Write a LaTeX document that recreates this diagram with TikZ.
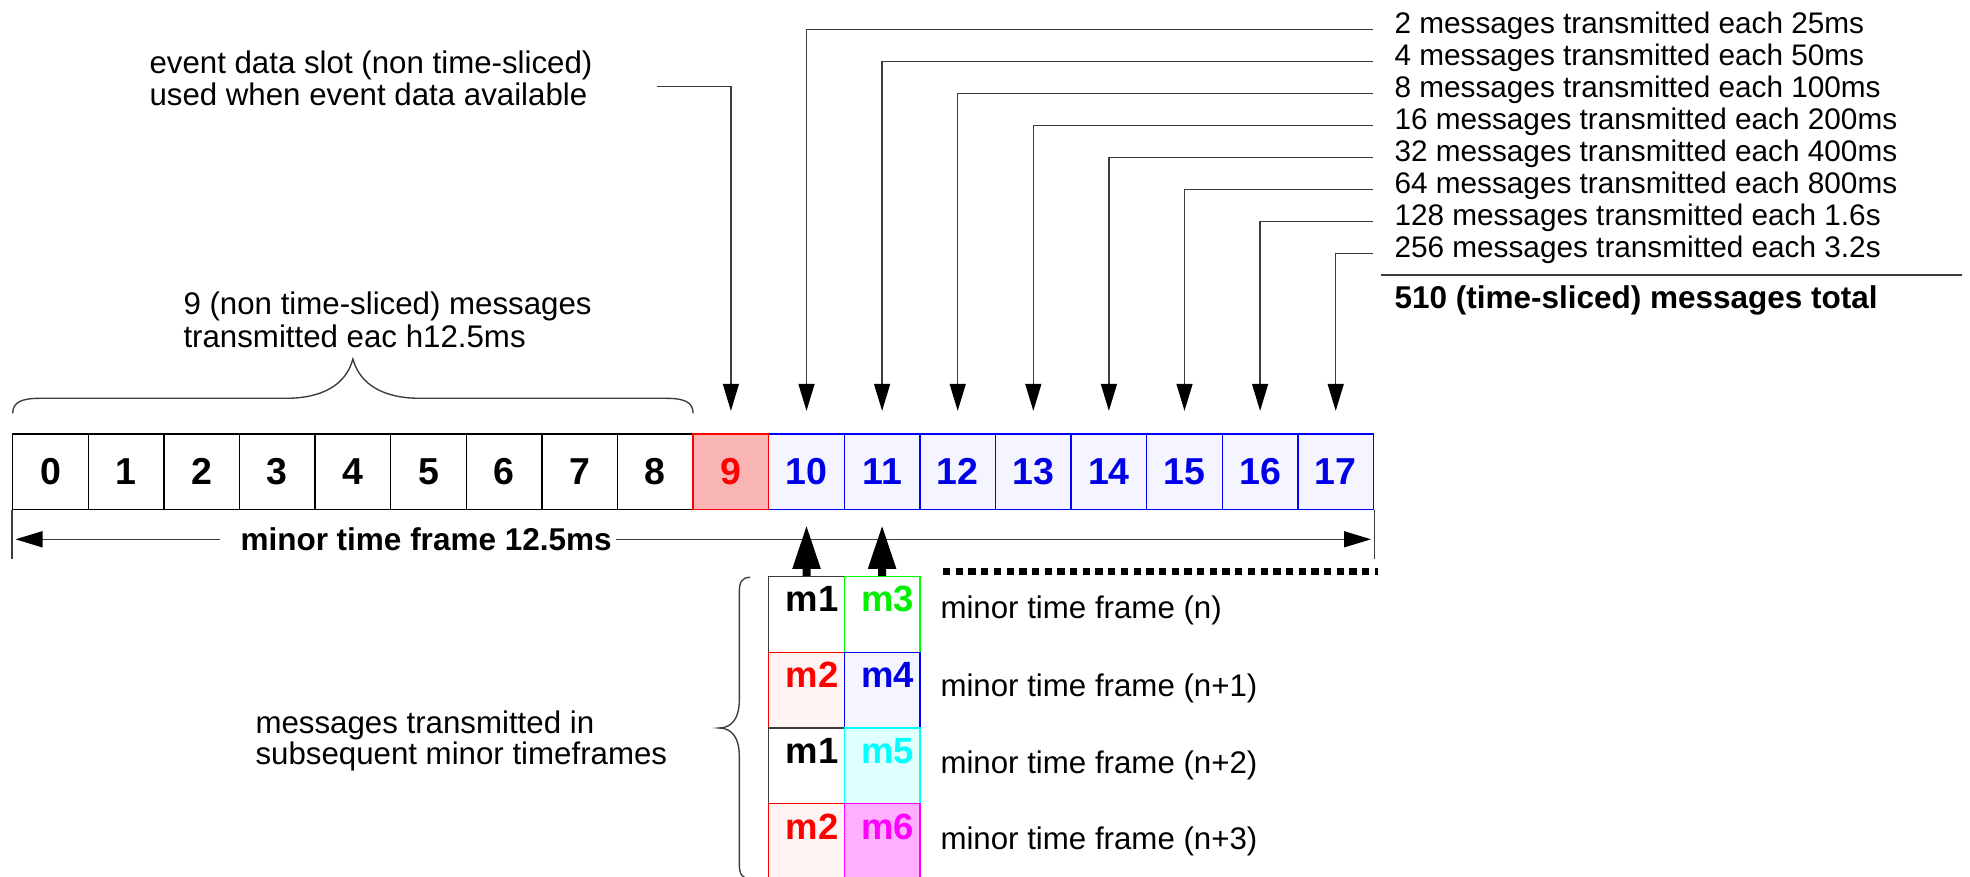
\documentclass[tikz,border=0pt]{standalone}
\usepackage{fontspec}
\setmainfont{Liberation Sans}
\usetikzlibrary{arrows.meta}

\definecolor{linegray}{HTML}{3C3C3C}
\definecolor{slotpink}{HTML}{F9B4B4}
\definecolor{slotpale}{HTML}{F5F5FF}
\definecolor{palered}{HTML}{FFF4F4}
\definecolor{palecyan}{HTML}{E0FFFF}
\definecolor{palemagenta}{HTML}{FFB0FF}
\definecolor{brightgreen}{HTML}{00FF00}
\definecolor{textgreen}{HTML}{00F000}
\definecolor{slotblue}{HTML}{0000FF}
\definecolor{digitblue}{HTML}{0000E6}
\definecolor{purecyan}{HTML}{00FFFF}
\definecolor{puremagenta}{HTML}{FF00FF}

\begin{document}
\begin{tikzpicture}[x=0.4pt, y=-0.4pt,
  conn/.style={draw=linegray, line width=0.55pt,
    -{Triangle[length=10.8pt,width=6.4pt,color=black]}},
  downarrow/.style={conn, shorten >=9pt},
  thinline/.style={draw=linegray, line width=0.55pt},
  bodytext/.style={inner sep=0pt, anchor=west, align=left,
    font=\fontsize{12.5}{12.7}\selectfont},
  listtext/.style={inner sep=0pt, anchor=west,
    font=\fontsize{11.9}{12.8}\selectfont},
  boldtext/.style={inner sep=0pt, anchor=west,
    font=\fontsize{12.6}{13}\selectfont\bfseries},
  slotbox/.style={draw, line width=0.55pt, minimum width=30.24pt,
    minimum height=30.12pt, inner sep=0pt,
    font=\fontsize{15}{16}\selectfont\bfseries},
  gcell/.style={draw, line width=0.55pt, minimum width=30.24pt,
    minimum height=30.28pt, inner sep=0pt},
  mlabel/.style={anchor=north east, inner sep=0pt, xshift=-2.4pt, yshift=-4pt,
    font=\fontsize{14.6}{15}\selectfont\bfseries},
  bigarrow/.style={line width=3.2pt,
    -{Triangle[length=17.6pt,width=10.4pt]}, shorten >=5.9pt},
]
\useasboundingbox (0,0) rectangle (1970,877);

% --- the eighteen slots of one minor time frame ---
\foreach \i in {0,...,8}
  \node[slotbox, fill=white] (s\i) at ({12.7+(\i+0.5)*75.6}, 471.7) {\i};
\foreach \i in {10,...,17}
  \node[slotbox, draw=slotblue, fill=slotpale, text=digitblue]
    (s\i) at ({12.7+(\i+0.5)*75.6}, 471.7) {\i};
\node[slotbox, draw=red, fill=slotpink, text=red]
  (s9) at ({12.7+9.5*75.6}, 471.7) {9};

% --- brace over the non time-sliced slots ---
\draw[thinline] (12.7,413.3) .. controls (12.7,402) and (22,398.3) .. (40,398.3)
  -- (286,398.3) .. controls (322,398.3) and (346,385) .. (352.9,359)
  .. controls (360,385) and (384,398.3) .. (420,398.3)
  -- (666,398.3) .. controls (684,398.3) and (693.1,402) .. (693.1,413.3);
\node[bodytext, font=\fontsize{12.5}{13.5}\selectfont] (nonsliced) at (183,319.8)
  {9 (non time-sliced) messages\\transmitted eac h12.5ms};

% --- event data slot ---
\node[bodytext] (eventtxt) at (149,78.5)
  {event data slot (non time-sliced)\\used when event data available};
\coordinate (evs) at (657,86.7);
\draw[downarrow] (evs) -| (s9.north);

% --- time-sliced message rates ---
\foreach \t [count=\k from 0] in {
  2 messages transmitted each 25ms,
  4 messages transmitted each 50ms,
  8 messages transmitted each 100ms,
  16 messages transmitted each 200ms,
  32 messages transmitted each 400ms,
  64 messages transmitted each 800ms,
  128 messages transmitted each 1.6s,
  256 messages transmitted each 3.2s}
  \node[listtext] (r\k) at (1394, {25.6+31.96*\k}) {\t};
\foreach \k in {0,...,7} {
  \pgfmathtruncatemacro{\j}{10+\k}
  \draw[downarrow] ([xshift=-8.5pt,yshift=-1.6pt]r\k.west) -| (s\j.north);
}
\draw[thinline] (1381,275) -- (1962,275);
\node[boldtext] (total) at (1394,300) {510 (time-sliced) messages total};

% --- extent of the minor time frame ---
\draw[thinline] (s0.south west) -- ++(0,48.7);
\draw[thinline] (s17.south east) -- ++(0,48.7);
\node[boldtext] (flabel) at (240,539.3) {minor time frame 12.5ms};
\coordinate (fl) at (15.5,539.3);
\coordinate (fr) at (1371,539.3);
\draw[conn] ([xshift=-8pt]flabel.west) -- (fl);
\draw[conn] ([xshift=1.5pt]flabel.east) -- (fr);

% --- contents of slots 10 and 11 in subsequent frames ---
\node[gcell, draw=linegray, fill=white] (g00) at (806.5,614.55) {};
\node[gcell, draw=brightgreen, fill=white] (g01) at (882.1,614.55) {};
\node[gcell, draw=red, fill=palered] (g10) at (806.5,690.25) {};
\node[gcell, draw=slotblue, fill=slotpale] (g11) at (882.1,690.25) {};
\node[gcell, draw=linegray, fill=white] (g20) at (806.5,765.95) {};
\node[gcell, draw=purecyan, fill=palecyan] (g21) at (882.1,765.95) {};
\node[gcell, draw=red, fill=palered] (g30) at (806.5,841.65) {};
\node[gcell, draw=puremagenta, fill=palemagenta] (g31) at (882.1,841.65) {};

\node[mlabel] (m00) at (g00.north east) {m1};
\node[mlabel, text=textgreen] (m01) at (g01.north east) {m3};
\node[mlabel, text=red] (m10) at (g10.north east) {m2};
\node[mlabel, text=digitblue] (m11) at (g11.north east) {m4};
\node[mlabel] (m20) at (g20.north east) {m1};
\node[mlabel, text=purecyan] (m21) at (g21.north east) {m5};
\node[mlabel, text=red] (m30) at (g30.north east) {m2};
\node[mlabel, text=puremagenta] (m31) at (g31.north east) {m6};

\draw[bigarrow] (g00.north) -- (s10.south);
\draw[bigarrow] (g01.north) -- (s11.south);

\draw[line width=2.8pt, dash pattern=on 2.92pt off 2.16pt] (943,571.7) -- (1378,571.7);

\node[bodytext] (f0) at (940,610.6) {minor time frame (n)};
\node[bodytext] (f1) at (940,688.5) {minor time frame (n+1)};
\node[bodytext] (f2) at (940,765) {minor time frame (n+2)};
\node[bodytext] (f3) at (940,841.8) {minor time frame (n+3)};

% --- brace grouping the subsequent frames ---
\draw[thinline] (750,577.3) .. controls (742,577.3) and (739.3,582) .. (739.3,592)
  -- (739.3,700) .. controls (739.3,718) and (732,728) .. (719,728)
  .. controls (732,728) and (739.3,738) .. (739.3,756)
  -- (739.3,864) .. controls (739.3,874) and (742,878.7) .. (750,878.7);
\node[bodytext] (subseq) at (255,741)
  {messages transmitted in\\subsequent minor timeframes};
\end{tikzpicture}
\end{document}
